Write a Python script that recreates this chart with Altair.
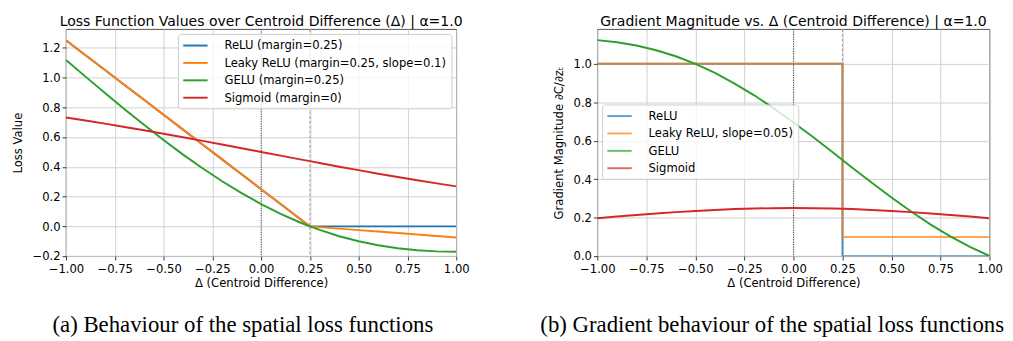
import altair as alt
import pandas as pd

# ---------------- data ----------------
DELTA = [-1.0, -0.9, -0.8, -0.7, -0.6, -0.5, -0.4, -0.3, -0.2, -0.1, 0.0,
         0.1, 0.2, 0.25, 0.3, 0.4, 0.5, 0.6, 0.7, 0.8, 0.9, 1.0]
LOSS_RELU = [1.25, 1.15, 1.05, 0.95, 0.85, 0.75, 0.65, 0.55, 0.45, 0.35, 0.25,
             0.15, 0.05, 0.0, 0.0, 0.0, 0.0, 0.0, 0.0, 0.0, 0.0, 0.0]
LOSS_LEAKY = [1.25, 1.15, 1.05, 0.95, 0.85, 0.75, 0.65, 0.55, 0.45, 0.35, 0.25,
              0.15, 0.05, 0.0, -0.005, -0.015, -0.025, -0.035, -0.045, -0.055, -0.065, -0.075]
LOSS_GELU = [1.118, 1.006, 0.896, 0.787, 0.682, 0.580, 0.482, 0.390, 0.303, 0.223, 0.150,
             0.084, 0.026, 0.0, -0.024, -0.066, -0.100, -0.127, -0.147, -0.160, -0.168, -0.170]
LOSS_SIGMOID = [0.731, 0.711, 0.690, 0.668, 0.646, 0.622, 0.599, 0.574, 0.550, 0.525, 0.500,
                0.475, 0.450, 0.438, 0.426, 0.401, 0.378, 0.354, 0.332, 0.310, 0.289, 0.269]

STEP_DELTA = [-1.0, 0.25, 0.25, 1.0]
GRAD_RELU = [1.0, 1.0, 0.0, 0.0]
GRAD_LEAKY = [1.0, 1.0, 0.1, 0.1]
GRAD_GELU = [1.123, 1.112, 1.095, 1.070, 1.039, 0.999, 0.952, 0.897, 0.836, 0.768, 0.695,
             0.619, 0.540, 0.500, 0.460, 0.381, 0.305, 0.232, 0.164, 0.103, 0.048, 0.001]
GRAD_SIGMOID = [0.197, 0.206, 0.214, 0.222, 0.229, 0.235, 0.240, 0.245, 0.248, 0.249, 0.250,
                0.249, 0.248, 0.246, 0.245, 0.240, 0.235, 0.229, 0.222, 0.214, 0.206, 0.197]

LOSS_NAMES = ["ReLU (margin=0.25)", "Leaky ReLU (margin=0.25, slope=0.1)",
              "GELU (margin=0.25)", "Sigmoid (margin=0)"]
GRAD_NAMES = ["ReLU", "Leaky ReLU, slope=0.05)", "GELU", "Sigmoid"]
COLORS = ["#1f77b4", "#ff7f0e", "#2ca02c", "#d62728"]

X_TICKS = [-1.0, -0.75, -0.5, -0.25, 0.0, 0.25, 0.5, 0.75, 1.0]
Y_TICKS_LOSS = [-0.2, 0.0, 0.2, 0.4, 0.6, 0.8, 1.0, 1.2]
Y_TICKS_GRAD = [0.0, 0.2, 0.4, 0.6, 0.8, 1.0]
VLINES = [0.0, 0.25]

TITLES = ["Loss Function Values over Centroid Difference (Δ) | α=1.0",
          "Gradient Magnitude vs. Δ (Centroid Difference) | α=1.0"]
X_TITLE = "Δ (Centroid Difference)"
Y_TITLES = ["Loss Value", "Gradient Magnitude ∂C/∂zₜ"]
CAPTIONS = ["(a) Behaviour of the spatial loss functions",
            "(b) Gradient behaviour of the spatial loss functions"]

FONT = "DejaVu Sans"
W1, W2, H = 404, 406, 235

# ---------------- tables ----------------
rows = []
for name, ys in zip(LOSS_NAMES, [LOSS_RELU, LOSS_LEAKY, LOSS_GELU, LOSS_SIGMOID]):
    for i, (x, y) in enumerate(zip(DELTA, ys)):
        rows.append({"series": name, "d": x, "v": y, "i": i})
loss_df = pd.DataFrame(rows)

rows = []
grad_sets = [(GRAD_NAMES[0], STEP_DELTA, GRAD_RELU, 1.2, 0.75),
             (GRAD_NAMES[1], STEP_DELTA, GRAD_LEAKY, 2.0, 0.7),
             (GRAD_NAMES[2], DELTA, GRAD_GELU, 1.0, 1.0),
             (GRAD_NAMES[3], DELTA, GRAD_SIGMOID, 1.0, 1.0)]
for name, xs, ys, w, a in grad_sets:
    for i, (x, y) in enumerate(zip(xs, ys)):
        rows.append({"series": name, "d": x, "v": y, "i": i, "w": w, "a": a})
grad_df = pd.DataFrame(rows)

vl_df = pd.DataFrame({"d": VLINES})


def x_enc():
    return alt.X("d:Q", title=X_TITLE,
                 scale=alt.Scale(domain=[-1, 1], nice=False, zero=False),
                 axis=alt.Axis(values=X_TICKS, format=".2f", labelPadding=4,
                               titlePadding=3))


def panel(df, names, ydom, yticks, ytitle, ytitle_pad, title, caption, cap_x, width,
          legend, extra_enc):
    y = alt.Y("v:Q", title=ytitle,
              scale=alt.Scale(domain=ydom, nice=False, zero=False),
              axis=alt.Axis(values=yticks, format=".1f", titlePadding=ytitle_pad))
    lines = alt.Chart(df).mark_line(strokeWidth=2, clip=True).encode(
        x=x_enc(), y=y,
        color=alt.Color("series:N", scale=alt.Scale(domain=names, range=COLORS),
                        legend=legend),
        order="i:Q",
        **extra_enc,
    )
    v0 = alt.Chart(vl_df).transform_filter("datum.d == 0").mark_rule(
        color="#000000", strokeWidth=0.8, strokeDash=[1, 1.5]).encode(x="d:Q")
    v1 = alt.Chart(vl_df).transform_filter("datum.d == 0.25").mark_rule(
        color="#999999", strokeWidth=1, strokeDash=[3, 2]).encode(x="d:Q")
    cap = alt.Chart(pd.DataFrame({"t": [caption]})).mark_text(
        align="left", baseline="alphabetic", font="Liberation Serif",
        fontSize=23.6, color="#000000").encode(
        x=alt.value(cap_x), y=alt.value(H + 78), text="t:N")
    return alt.layer(v0, v1, lines, cap).properties(
        width=width, height=H,
        title=alt.Title(title, fontSize=14.5, font=FONT, fontWeight="normal",
                        color="#000000", offset=-1))


LEG_STYLE = dict(title=None, fillColor="rgba(255,255,255,0.8)", strokeColor="#cccccc",
                 cornerRadius=3, padding=5, labelFont=FONT, labelFontSize=12,
                 labelColor="#000000", symbolType="M-2.1,0H2.1", symbolStrokeWidth=2,
                 symbolSize=144, symbolOffset=6, labelOffset=23, rowPadding=5,
                 labelLimit=400)
leg1 = alt.Legend(orient="top-right", offset=5, **LEG_STYLE)
leg2 = alt.Legend(orient="none", legendX=5, legendY=78, symbolOpacity=0.7, **LEG_STYLE)

left = panel(loss_df, LOSS_NAMES, [-0.2, 1.325], Y_TICKS_LOSS, Y_TITLES[0], 8,
             TITLES[0], CAPTIONS[0], -14, W1, leg1, {})
right = panel(grad_df, GRAD_NAMES, [0, 1.18], Y_TICKS_GRAD, Y_TITLES[1], 8,
              TITLES[1], CAPTIONS[1], -59, W2, leg2,
              {"strokeWidth": alt.StrokeWidth("w:Q", scale=None, legend=None),
               "opacity": alt.Opacity("a:Q", scale=None, legend=None)})

chart = alt.hconcat(left, right, spacing=72).resolve_scale(
    color="independent").resolve_legend(color="independent").properties(
    padding={"left": 3, "top": 0, "right": 0, "bottom": 0},
    background="#ffffff",
).configure_view(stroke="#222222", strokeWidth=0.8).configure_axis(
    grid=True, gridColor="#cfcfcf", gridWidth=1, domain=False,
    tickColor="#000000", tickSize=4, tickWidth=0.8,
    labelFont=FONT, labelFontSize=12, labelColor="#000000", labelPadding=2,
    labelOverlap=False, labelFlush=False,
    titleFont=FONT, titleFontSize=12, titleFontWeight="normal", titleColor="#000000",
    titlePadding=4,
)

chart.save("out.html", embed_options={"renderer": "svg", "actions": False})
